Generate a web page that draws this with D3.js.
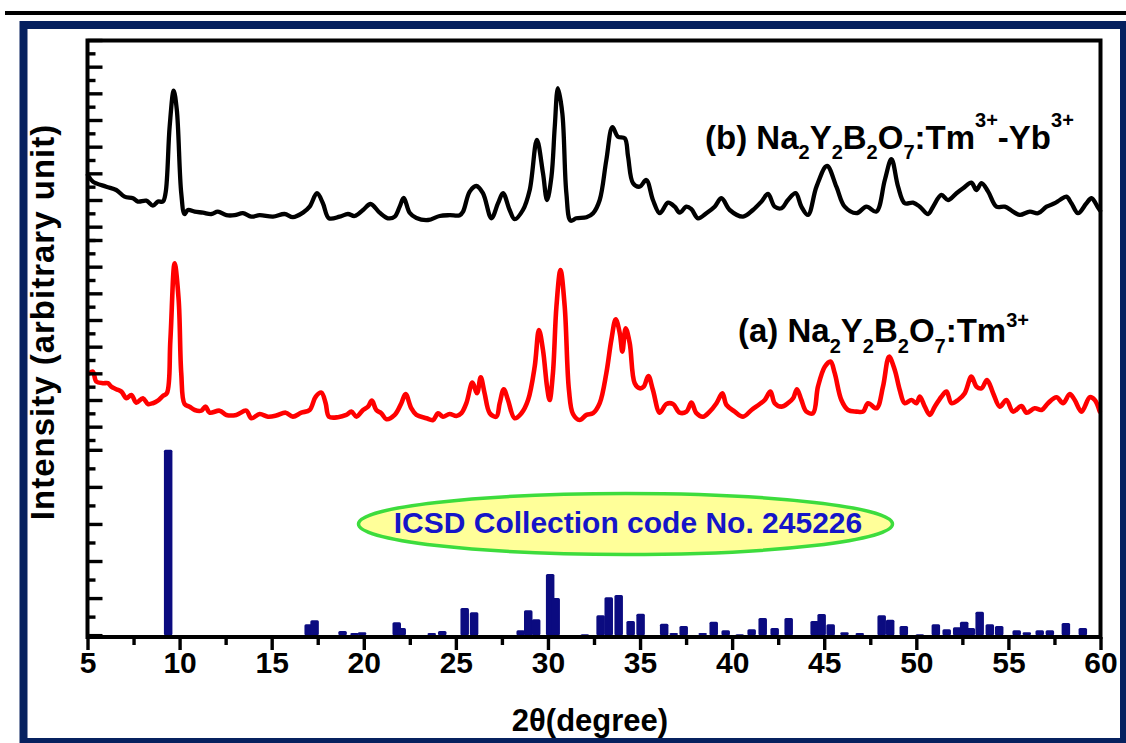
<!DOCTYPE html>
<html>
<head>
<meta charset="utf-8">
<script src="https://cdn.jsdelivr.net/npm/d3@7"></script>
<style>
  html, body { margin: 0; padding: 0; background: #fff; }
  svg { display: block; }
</style>
</head>
<body>
<svg id="chart" width="1126" height="743"></svg>
<script>
// ---- XRD pattern (b): Na2Y2B2O7:Tm3+-Yb3+ ----
const thetaB = [5.02,5.29,6.02,6.56,7.01,7.47,7.74,8.19,8.55,8.82,9.09,9.24,9.46,9.68,9.85,10.09,10.27,10.45,10.82,11.27,11.72,12.08,12.54,12.99,13.44,13.89,14.35,15.07,15.70,16.15,16.70,17.06,17.46,17.78,18.11,18.69,19.14,19.50,19.96,20.37,20.86,21.31,21.68,21.95,22.17,22.49,22.86,23.49,24.12,24.66,25.21,
  25.39,25.75,26.11,26.47,26.93,27.29,27.56,27.92,28.19,28.64,29.01,29.40,29.73,29.95,30.19,30.37,30.54,30.78,31.00,31.23,31.54,32.09,32.45,32.81,33.17,33.50,33.80,34.17,34.35,34.62,34.98,35.34,35.70,36.07,36.52,36.88,37.15,37.52,37.79,38.15,38.60,39.05,39.42,39.87,40.59,41.13,41.59,41.95,42.31,42.68,43.03,43.45,43.76,44.12,
  44.58,45.15,45.66,46.11,46.75,47.29,47.83,48.29,48.65,49.01,49.37,49.82,50.19,50.64,50.91,51.36,51.72,52.18,52.54,52.99,53.26,53.54,53.90,54.35,54.80,55.25,55.62,56.16,56.61,57.07,57.52,57.79,58.15,58.42,58.78,59.24,59.51,59.84,59.98];
const intensityB = [388,338,300,275,225,213,188,195,158,188,188,253,750,1020,875,251,95,125,113,105,95,113,86,86,101,75,86,75,95,71,105,150,251,176,63,75,95,80,125,170,105,63,75,150,215,105,65,50,80,86,86,
  113,263,305,251,63,176,251,125,56,125,275,650,401,200,375,750,1038,851,251,45,63,71,101,200,500,746,675,663,525,326,300,350,200,101,180,150,105,150,131,63,101,150,213,125,75,125,188,245,150,138,200,251,150,88,
  300,455,300,150,101,150,113,350,506,300,176,180,150,95,150,238,200,251,288,330,275,326,263,150,150,113,88,113,101,150,176,200,225,176,101,176,213,150,120];

// ---- XRD pattern (a): Na2Y2B2O7:Tm3+ ----
const thetaA = [5.11,5.29,5.48,5.84,6.11,6.29,6.56,6.84,7.11,7.38,7.65,8.01,8.28,8.55,8.82,9.09,9.31,9.50,9.73,9.95,10.09,10.27,10.54,10.82,11.18,11.41,11.63,12.17,12.54,13.08,13.62,13.90,14.35,14.80,15.25,15.76,16.15,16.61,17.06,17.39,17.70,17.93,18.11,18.60,19.05,19.33,19.60,19.96,20.23,20.44,20.68,20.95,21.23,21.68,22.04,22.27,22.58,22.86,23.40,23.76,24.03,24.30,24.66,25.03,
  25.30,25.57,25.90,26.15,26.35,26.56,26.84,27.20,27.38,27.60,27.83,28.19,28.56,28.92,29.28,29.51,29.73,29.95,30.09,30.27,30.46,30.68,30.91,31.14,31.36,31.72,32.09,32.45,32.81,33.17,33.44,33.68,33.90,34.04,34.22,34.44,34.71,34.98,35.20,35.45,35.70,36.07,36.43,36.79,37.15,37.52,37.79,38.06,38.42,38.78,39.15,39.47,39.69,40.14,40.59,41.05,41.50,41.77,42.08,42.31,42.68,43.03,43.31,43.52,43.76,44.03,44.39,
  44.66,45.03,45.34,45.57,45.93,46.29,46.75,47.11,47.38,47.84,48.19,48.52,48.83,49.10,49.37,49.74,50.01,50.19,50.46,50.73,51.00,51.36,51.64,51.91,52.27,52.63,52.99,53.27,53.54,53.84,54.17,54.53,54.89,55.25,55.71,55.98,56.43,56.80,57.15,57.61,57.97,58.33,58.60,58.97,59.42,59.69,59.96];
const intensityA = [401,413,338,326,326,300,281,263,213,238,180,213,170,176,195,230,251,650,1226,950,401,170,150,125,120,150,105,120,88,88,120,63,95,75,83,105,75,105,125,225,255,176,75,71,88,113,75,125,150,195,125,101,56,88,176,245,138,88,63,50,101,75,95,80,
  101,176,330,251,371,251,101,75,176,281,200,63,101,200,450,725,575,300,200,401,900,1175,900,275,95,50,88,101,176,401,650,806,701,563,738,626,326,288,300,380,275,105,170,170,105,113,180,101,75,113,176,251,163,113,75,125,170,200,263,176,150,176,213,281,200,113,101,
  300,450,488,401,200,125,113,113,176,138,300,525,425,275,176,200,176,225,150,88,150,225,263,176,200,251,375,300,288,350,251,150,200,113,155,105,138,125,176,221,176,245,200,113,221,200,113];

// ---- Reference reflections (ICSD 245226), relative intensity ----
const refTheta = [9.38,17.01,17.33,18.85,19.50,19.91,21.79,22.06,23.69,24.26,25.48,25.99,28.52,28.93,29.36,30.12,30.42,32.00,32.86,33.30,33.84,34.49,35.03,36.31,36.83,37.37,38.40,39.00,39.65,40.41,41.06,41.66,42.31,43.07,44.48,44.86,45.35,46.10,46.93,48.12,48.58,49.32,50.19,51.06,51.65,52.22,52.60,52.96,53.44,53.99,54.50,55.45,56.00,56.70,57.25,58.12,59.04];
const refIntensity = [100,5.9,8.1,2.2,1.1,1.6,7.0,3.8,1.1,2.2,14.6,12.4,2.7,13.5,8.6,33,20,0.5,10.8,20.5,21.6,7.6,11.5,6.1,1.2,4.9,1.2,7.2,2.7,0.5,3.2,9.2,3.8,9.2,7.6,11.4,5.9,1.6,1.1,10.8,8.3,4.9,0.5,5.9,3.2,4.3,7.2,3.8,12.6,5.9,4.9,2.7,1.6,2.7,2.7,6.6,3.8];

// ---- Axis ticks and text ----
const xMajorTicks = [5,10,15,20,25,30,35,40,45,50,55,60];
const xMinorTicks = [7.5,12.5,17.5,22.5,27.5,32.5,37.5,42.5,47.5,52.5,57.5];
const patternTicks = d3.range(-100, 1401, 100);
const refTicks = d3.range(0, 101, 10);
const xTitle = "2θ(degree)";
const yTitle = "Intensity (arbitrary unit)";
const labelB = [["(b) Na","n"],["2","sub"],["Y","n"],["2","sub"],["B","n"],["2","sub"],["O","n"],["7","sub"],[":Tm","n"],["3+","sup"],["-Yb","n"],["3+","sup"]];
const labelA = [["(a) Na","n"],["2","sub"],["Y","n"],["2","sub"],["B","n"],["2","sub"],["O","n"],["7","sub"],[":Tm","n"],["3+","sup"]];
const refLabel = "ICSD Collection code No. 245226";

const FONT = '"Liberation Sans", Arial, Helvetica, sans-serif';
const svg = d3.select("#chart");

// page rule and navy border
svg.append("rect").attr("x", 5).attr("y", 11).attr("width", 1121).attr("height", 4).attr("fill", "#000");
svg.append("rect").attr("x", 23.5).attr("y", 25).attr("width", 1100.5).attr("height", 717)
  .attr("fill", "#fff").attr("stroke", "#06215f").attr("stroke-width", 8);

// scales: shared 2θ axis, three stacked intensity layers
const x = d3.scaleLinear().domain([5, 60]).range([87.5, 1100.5]);
const yB = d3.scaleLinear().domain([-100, 1400]).range([240, 40]);
const yA = d3.scaleLinear().domain([-100, 1400]).range([440, 240]);
const yR = d3.scaleLinear().domain([-1, 105.3]).range([637, 440]);

const plot = svg.append("g");

// measured patterns
function drawPattern(thetas, vals, yScale, color, width) {
  const pts = thetas.map((t, i) => [t, vals[i]]);
  plot.append("path")
    .datum(pts)
    .attr("fill", "none")
    .attr("stroke", color)
    .attr("stroke-width", width)
    .attr("stroke-linejoin", "round")
    .attr("stroke-linecap", "round")
    .attr("d", d3.line().x(d => x(d[0])).y(d => yScale(d[1])).curve(d3.curveCatmullRom.alpha(0.5)));
}
drawPattern(thetaB, intensityB, yB, "#000", 4.3);
drawPattern(thetaA, intensityA, yA, "#ff0000", 4.6);

// reference sticks
const barW = 8.5;
plot.append("g").selectAll("rect")
  .data(refTheta.map((t, i) => ({ t, v: refIntensity[i] })))
  .join("rect")
  .attr("x", d => x(d.t) - barW / 2)
  .attr("width", barW)
  .attr("y", d => yR(d.v))
  .attr("height", d => yR(0) - yR(d.v))
  .attr("rx", 1.5)
  .attr("fill", "#0b0b80");

// frame
svg.append("rect")
  .attr("x", x(5)).attr("y", 40.5)
  .attr("width", x(60) - x(5)).attr("height", 637 - 40.5)
  .attr("fill", "none").attr("stroke", "#000").attr("stroke-width", 4);

// inward ticks on the left spine for each layer
function leftTicks(scale, values, isMajor) {
  const major = values.filter(isMajor), minor = values.filter(v => !isMajor(v));
  [[major, 15], [minor, 8]].forEach(([vals, len]) => {
    const g = svg.append("g").attr("transform", `translate(${x(5)},0)`)
      .call(d3.axisRight(scale).tickValues(vals).tickSize(len).tickFormat(""));
    g.select(".domain").remove();
    g.selectAll("line").attr("stroke", "#000").attr("stroke-width", 3.4);
  });
}
leftTicks(yB, patternTicks, v => v % 200 === 0);
leftTicks(yA, patternTicks, v => v % 200 === 0);
leftTicks(yR, refTicks, v => v % 20 === 0);

// bottom axis
const gxMinor = svg.append("g").attr("transform", "translate(0,637)")
  .call(d3.axisBottom(x).tickValues(xMinorTicks).tickSize(8).tickFormat(""));
gxMinor.select(".domain").remove();
gxMinor.selectAll("line").attr("stroke", "#000").attr("stroke-width", 3.4);

const gx = svg.append("g").attr("transform", "translate(0,637)")
  .call(d3.axisBottom(x).tickValues(xMajorTicks).tickSize(13).tickFormat(d3.format("d")));
gx.select(".domain").remove();
gx.selectAll("line").attr("stroke", "#000").attr("stroke-width", 3.4);
gx.selectAll("text")
  .attr("y", 36).attr("dy", null)
  .attr("fill", "#000")
  .style("font-family", FONT).style("font-size", "30px").style("font-weight", "bold");

// axis titles
svg.append("text")
  .attr("x", 590).attr("y", 731)
  .attr("text-anchor", "middle")
  .style("font-family", FONT).style("font-size", "31px").style("font-weight", "bold")
  .text(xTitle);

svg.append("text")
  .attr("transform", "translate(54,322) rotate(-90)")
  .attr("text-anchor", "middle")
  .style("font-family", FONT).style("font-size", "33px").style("font-weight", "bold")
  .style("letter-spacing", "1px")
  .text(yTitle);

// chemical formula labels with sub/superscripts
function formula(px, py, segs, subDy, supDy) {
  const t = svg.append("text").attr("x", px).attr("y", py)
    .style("font-family", FONT).style("font-weight", "bold").attr("fill", "#000");
  let shift = 0;
  segs.forEach(([s, kind]) => {
    const target = kind === "sub" ? subDy : kind === "sup" ? supDy : 0;
    t.append("tspan")
      .attr("dy", target - shift)
      .style("font-size", kind === "n" ? "33px" : "20px")
      .text(s);
    shift = target;
  });
}
formula(705, 149, labelB, 10, -22);
formula(738, 342, labelA, 11, -15);

// reference database callout
svg.append("ellipse")
  .attr("cx", 625.5).attr("cy", 524).attr("rx", 267).attr("ry", 30.5)
  .attr("fill", "#ffff99").attr("stroke", "#3ddc3d").attr("stroke-width", 3.5);
svg.append("text")
  .attr("x", 628).attr("y", 533)
  .attr("text-anchor", "middle")
  .attr("fill", "#1515c8")
  .style("font-family", FONT).style("font-size", "30px").style("font-weight", "bold")
  .text(refLabel);
</script>
</body>
</html>
